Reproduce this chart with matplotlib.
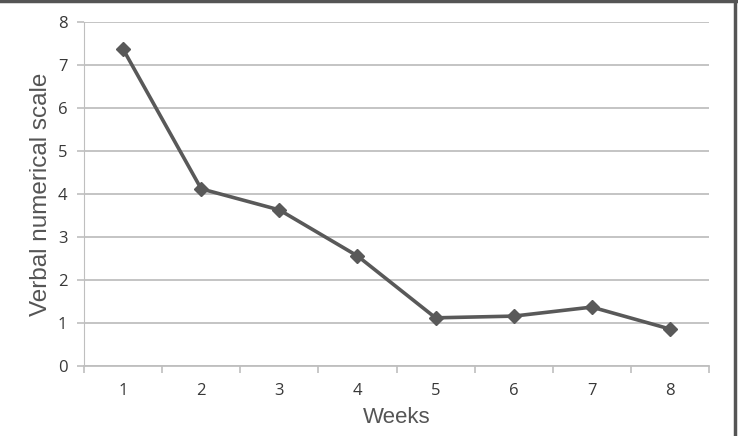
import matplotlib
matplotlib.use("Agg")
import matplotlib.pyplot as plt
from matplotlib.lines import Line2D

weeks = [1, 2, 3, 4, 5, 6, 7, 8]
scores = [7.37, 4.12, 3.63, 2.56, 1.12, 1.16, 1.37, 0.86]
week_labels = ["1", "2", "3", "4", "5", "6", "7", "8"]

line_col = "#595959"
grid_col = "#bfbfbf"

fig = plt.figure(figsize=(7.38, 4.36), dpi=100)
ax = fig.add_axes([84 / 738, 70 / 436, 625 / 738, 344 / 436])

ax.plot(weeks, scores, color=line_col, linewidth=2.6, marker="D",
        markersize=7.5, markerfacecolor=line_col, markeredgecolor=line_col, zorder=3)

ax.set_xlim(0.5, 8.5)
ax.set_ylim(0, 8)
ax.set_yticks(range(0, 9))
ax.set_xticks(weeks)
ax.set_xticklabels(week_labels)
ax.set_xticks([w + 0.5 for w in range(0, 9)], minor=True)
ax.yaxis.grid(True, color=grid_col, linewidth=1.3)
ax.set_axisbelow(True)

for side in ["top", "right"]:
    ax.spines[side].set_visible(False)
ax.spines["left"].set_color(grid_col)
ax.spines["bottom"].set_color(grid_col)
ax.spines["bottom"].set_linewidth(1.3)

ax.tick_params(axis="x", which="major", length=0, pad=12, labelsize=12, labelcolor="#383838")
ax.tick_params(axis="x", which="minor", length=5, color=grid_col, width=1.2)
ax.tick_params(axis="y", length=5, color=grid_col, width=1.2, pad=7,
               labelsize=12, labelcolor="#383838")
for lbl in ax.get_xticklabels() + ax.get_yticklabels():
    lbl.set_fontfamily("Open Sans")

ax.set_xlabel("Weeks", fontsize=16, color="#555555", family="Liberation Sans", labelpad=6)
ax.set_ylabel("Verbal numerical scale", fontsize=17.5, color="#555555",
              family="Liberation Sans", labelpad=4)

# frame edges from the original figure box
fig.add_artist(Line2D([0, 1], [0.998, 0.998], color="#555555", linewidth=2.5,
                      transform=fig.transFigure))
fig.add_artist(Line2D([0.996, 0.996], [0, 1], color="#555555", linewidth=2.5,
                      transform=fig.transFigure))

fig.savefig("out.png", dpi=100)
